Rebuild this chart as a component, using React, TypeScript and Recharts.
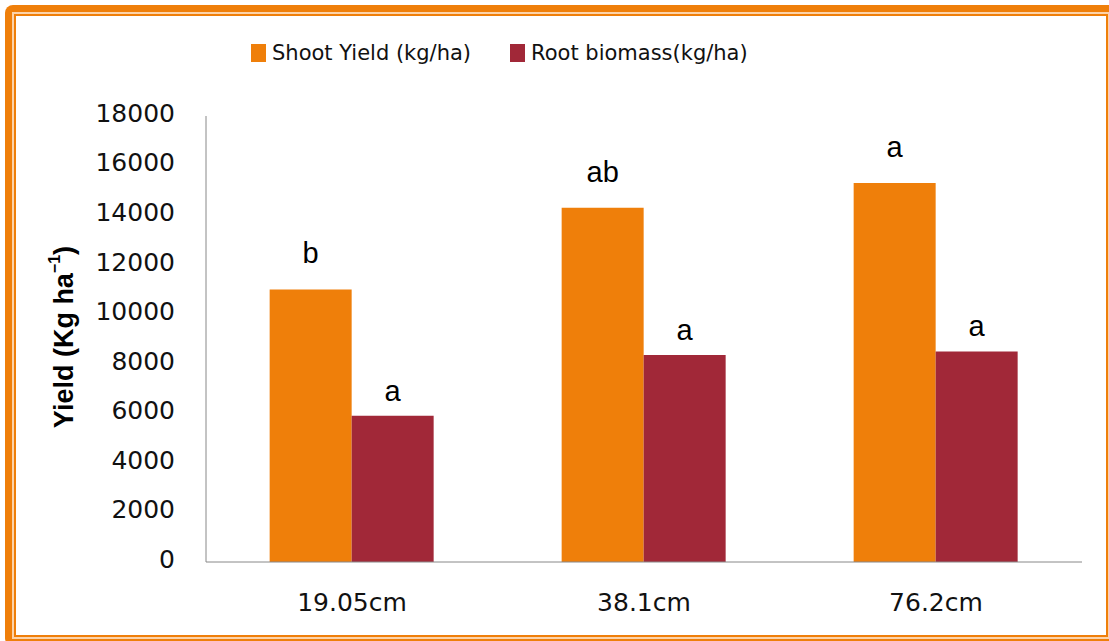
import React from "react";
import { BarChart, Bar, XAxis, YAxis, Legend, LabelList, Label } from "recharts";

// row spacing treatments
const spacings = ["19.05cm", "38.1cm", "76.2cm"];
const shootYield = [11000, 14300, 15300];
const rootBiomass = [5900, 8350, 8500];
// significance letters
const shootLetters = ["b", "ab", "a"];
const rootLetters = ["a", "a", "a"];
const seriesNames = ["Shoot Yield (kg/ha)", "Root biomass(kg/ha)"];
const yTicks = [0, 2000, 4000, 6000, 8000, 10000, 12000, 14000, 16000, 18000];

const ORANGE = "#EF7F0A";
const RED = "#A12838";
const TICK_FONT = "DejaVu Sans";

const data = spacings.map((s, i) => ({
  spacing: s,
  shoot: shootYield[i],
  root: rootBiomass[i],
  shootLetter: shootLetters[i],
  rootLetter: rootLetters[i],
}));

function renderLegend(props: any) {
  const payload = [...(props.payload || [])].sort(
    (a: any, b: any) => seriesNames.indexOf(a.value) - seriesNames.indexOf(b.value)
  );
  return (
    <div
      style={{
        display: "flex",
        alignItems: "center",
        fontFamily: TICK_FONT,
        fontSize: 21,
        color: "#111",
        whiteSpace: "nowrap",
      }}
    >
      {payload.map((entry: any, i: number) => (
        <div key={i} style={{ display: "flex", alignItems: "center", marginRight: 39 }}>
          <span
            style={{
              display: "inline-block",
              width: 15,
              height: 18,
              background: entry.color,
              marginRight: 6,
            }}
          />
          <span>{entry.value}</span>
        </div>
      ))}
    </div>
  );
}

function YLabel() {
  return (
    <text
      x={64}
      y={337}
      transform="rotate(-90 64 337)"
      textAnchor="middle"
      dominantBaseline="central"
      fontFamily="Liberation Sans"
      fontWeight="bold"
      fontSize={27}
      fill="#000"
    >
      Yield (Kg ha
      <tspan fontSize={16} dy={-10}>
        −1
      </tspan>
      <tspan dy={10}>)</tspan>
    </text>
  );
}

export default function App() {
  return (
    <div
      style={{
        position: "absolute",
        left: 0,
        top: 0,
        width: 1109,
        height: 641,
        overflow: "hidden",
        background: "#fff",
      }}
    >
      {/* orange picture frame */}
      <div style={{ position: "absolute", left: 5, top: 5, width: 1111, height: 641, background: ORANGE, borderRadius: 8 }} />
      <div style={{ position: "absolute", left: 12, top: 12, width: 1098, height: 627, background: "#FCD3AA" }} />
      <div
        style={{
          position: "absolute",
          left: 14,
          top: 14,
          width: 1094,
          height: 623,
          background: "#fff",
          border: `2px solid ${ORANGE}`,
          boxSizing: "border-box",
        }}
      />
      <div style={{ position: "absolute", left: 0, top: 0 }}>
        <BarChart
          width={1109}
          height={641}
          data={data}
          margin={{ top: 92, right: 27, bottom: 49, left: 0 }}
          barCategoryGap="21.8%"
          barGap={0}
        >
          <Legend
            verticalAlign="top"
            content={renderLegend}
            wrapperStyle={{ top: 41, left: 251, width: "auto" }}
          />
          <XAxis
            dataKey="spacing"
            axisLine={{ stroke: "#888", strokeWidth: 1 }}
            tickLine={false}
            tickSize={6}
            tickMargin={25}
            tick={{ fontFamily: TICK_FONT, fontSize: 25, fill: "#111" }}
          />
          <YAxis
            width={206}
            domain={[0, 18000]}
            ticks={yTicks}
            interval={0}
            axisLine={{ stroke: "#888", strokeWidth: 1 }}
            tickLine={false}
            tickSize={6}
            tickMargin={25}
            tick={{ fontFamily: TICK_FONT, fontSize: 25, fill: "#111", dy: -3 }}
          >
            <Label content={YLabel} />
          </YAxis>
          <Bar dataKey="shoot" name={seriesNames[0]} fill={ORANGE} isAnimationActive={false}>
            <LabelList
              dataKey="shootLetter"
              position="top"
              offset={26}
              fontFamily="Liberation Sans"
              fontSize={29}
              fill="#000"
            />
          </Bar>
          <Bar dataKey="root" name={seriesNames[1]} fill={RED} isAnimationActive={false}>
            <LabelList
              dataKey="rootLetter"
              position="top"
              offset={15}
              fontFamily="Liberation Sans"
              fontSize={29}
              fill="#000"
            />
          </Bar>
        </BarChart>
      </div>
    </div>
  );
}
